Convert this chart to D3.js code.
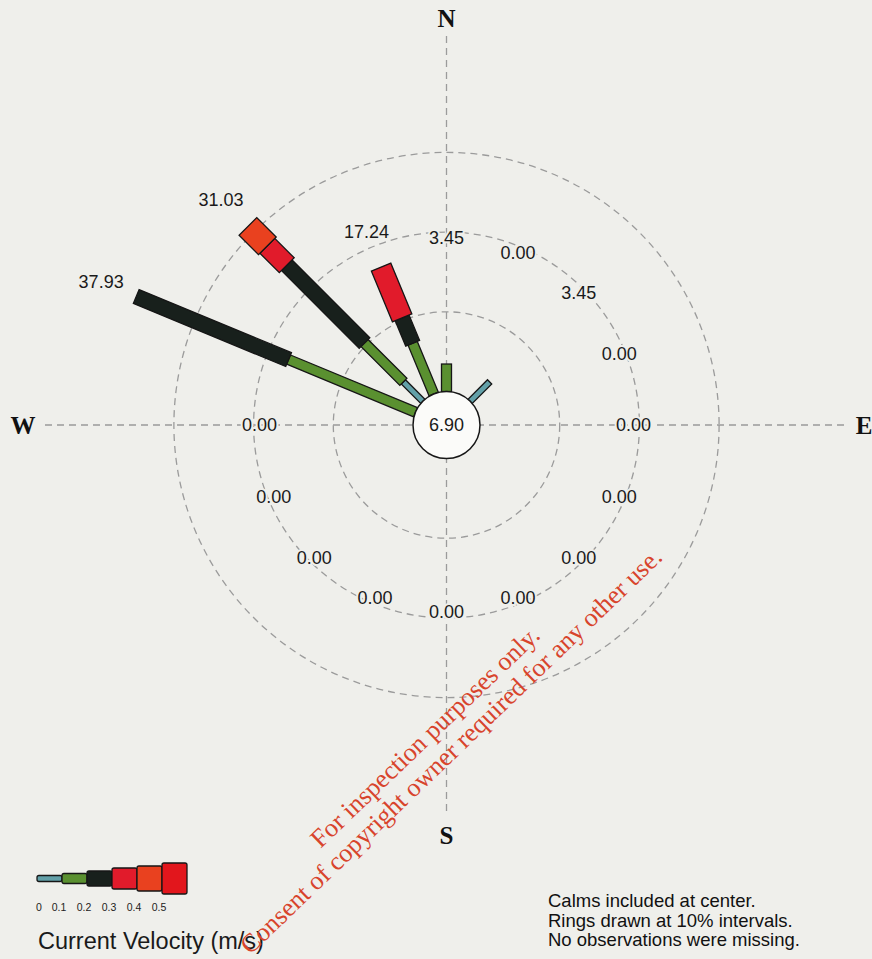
<!DOCTYPE html>
<html>
<head>
<meta charset="utf-8">
<script src="https://cdn.jsdelivr.net/npm/d3@7"></script>
<style>
  html, body { margin: 0; padding: 0; background: #efefeb; }
  svg { display: block; }
</style>
</head>
<body>
<svg id="chart" width="872" height="959"></svg>
<script>
// 16-point compass sectors, clockwise from north
const directions = ["N","NNE","NE","ENE","E","ESE","SE","SSE","S","SSW","SW","WSW","W","WNW","NW","NNW"];
// Current speed classes (m/s, lower bounds)
const speedBins = ["0","0.1","0.2","0.3","0.4","0.5"];
// Frequency of occurrence (%) by direction, one array per speed class
const freq0to01  = [0,     0, 3.448, 0, 0, 0, 0, 0, 0, 0, 0, 0, 0, 0,      3.448,  0];
const freq01to02 = [3.448, 0, 0,     0, 0, 0, 0, 0, 0, 0, 0, 0, 0, 17.241, 6.897,  6.897];
const freq02to03 = [0,     0, 0,     0, 0, 0, 0, 0, 0, 0, 0, 0, 0, 20.690, 13.793, 3.448];
const freq03to04 = [0,     0, 0,     0, 0, 0, 0, 0, 0, 0, 0, 0, 0, 0,      3.448,  6.897];
const freq04to05 = [0,     0, 0,     0, 0, 0, 0, 0, 0, 0, 0, 0, 0, 0,      3.448,  0];
const freq05plus = [0,     0, 0,     0, 0, 0, 0, 0, 0, 0, 0, 0, 0, 0,      0,      0];
const calmPct = 6.897;
const ringPcts = [10, 20, 30];
const notes = ["Calms included at center.", "Rings drawn at 10% intervals.", "No observations were missing."];
const legendTitle = "Current Velocity (m/s)";
const watermark = ["For inspection purposes only.", "Consent of copyright owner required for any other use."];

const freqByBin = [freq0to01, freq01to02, freq02to03, freq03to04, freq04to05, freq05plus];

// ---- styling ----
const binColors = ["#62a0a8", "#5a9030", "#18201c", "#e11b2b", "#e9411f", "#e2161c"];
const binWidths = [6, 10, 15, 21, 25, 31];
const bg = "#efefeb";
const cx = 446.5, cy = 425, calmR = 33.5, pxPerPct = 7.97;

const svg = d3.select("#chart");
svg.append("rect").attr("width", 872).attr("height", 959).attr("fill", bg);

const r = d3.scaleLinear().domain([0, 30]).range([calmR, calmR + 30 * pxPerPct]);
const angle = d3.scalePoint().domain(directions).range([0, 337.5]);
const color = d3.scaleOrdinal(speedBins, binColors);
const width = d3.scaleOrdinal(speedBins, binWidths);

const dash = { stroke: "#9b9b9b", "stroke-width": 1.3, "stroke-dasharray": "7,5", fill: "none" };
function applyAttrs(sel, o) { Object.entries(o).forEach(([k, v]) => sel.attr(k, v)); return sel; }

// compass axes
applyAttrs(svg.append("line").attr("x1", 45).attr("x2", 849).attr("y1", cy).attr("y2", cy), dash);
applyAttrs(svg.append("line").attr("x1", cx).attr("x2", cx).attr("y1", 36).attr("y2", 816), dash);

// percentage rings
svg.append("g").selectAll("circle").data(ringPcts).join("circle")
  .attr("cx", cx).attr("cy", cy).attr("r", d => r(d))
  .each(function () { applyAttrs(d3.select(this), dash); });

// stacked bars per direction
const rows = directions.map((d, i) => {
  let acc = 0;
  const segs = speedBins.map((b, j) => {
    const v = freqByBin[j][i];
    const s = { bin: b, start: acc, end: acc + v, v };
    acc += v;
    return s;
  }).filter(s => s.v > 0);
  return { dir: d, total: acc, segs };
});

const bars = svg.append("g").attr("transform", `translate(${cx},${cy})`);
bars.selectAll("g").data(rows).join("g")
  .attr("transform", d => `rotate(${angle(d.dir)})`)
  .selectAll("rect").data(d => d.segs).join("rect")
  .attr("x", d => -width(d.bin) / 2)
  .attr("width", d => width(d.bin))
  .attr("y", d => -r(d.end))
  .attr("height", d => r(d.end) - r(d.start))
  .attr("fill", d => color(d.bin))
  .attr("stroke", "#161616")
  .attr("stroke-width", 1.3);

// calm circle
svg.append("circle").attr("cx", cx).attr("cy", cy).attr("r", calmR)
  .attr("fill", "#fbfbf9").attr("stroke", "#161616").attr("stroke-width", 1.5);
svg.append("text").attr("x", cx).attr("y", cy).attr("dy", "0.36em")
  .attr("text-anchor", "middle").attr("font-family", "Liberation Sans, Arial, sans-serif")
  .attr("font-size", 18).attr("fill", "#1a1a1a").text(calmPct.toFixed(2));

// direction totals
const minLabelR = 187;
svg.append("g").selectAll("text").data(rows).join("text")
  .attr("x", d => {
    const lr = Math.max(minLabelR, r(d.total) + 38);
    return cx + lr * Math.sin(angle(d.dir) * Math.PI / 180);
  })
  .attr("y", d => {
    const lr = Math.max(minLabelR, r(d.total) + 38);
    return cy - lr * Math.cos(angle(d.dir) * Math.PI / 180);
  })
  .attr("dy", "0.36em")
  .attr("text-anchor", "middle")
  .attr("font-family", "Liberation Sans, Arial, sans-serif")
  .attr("font-size", 18)
  .attr("fill", "#1a1a1a")
  .attr("stroke", bg).attr("stroke-width", 4).attr("paint-order", "stroke")
  .text(d => d.total.toFixed(2));

// compass letters
const compass = [["N", cx, 18], ["E", 864, cy], ["S", cx, 835], ["W", 23, cy]];
svg.append("g").selectAll("text").data(compass).join("text")
  .attr("x", d => d[1]).attr("y", d => d[2]).attr("dy", "0.35em")
  .attr("text-anchor", "middle")
  .attr("font-family", "Liberation Serif, Times New Roman, serif")
  .attr("font-weight", "bold").attr("font-size", 25).attr("fill", "#111")
  .text(d => d[0]);

// speed legend
const lx = d3.scaleBand().domain(speedBins).range([37, 187]);
const legend = svg.append("g");
legend.selectAll("rect").data(speedBins).join("rect")
  .attr("x", d => lx(d)).attr("width", lx.bandwidth())
  .attr("y", d => 878.5 - width(d) / 2).attr("height", d => width(d))
  .attr("rx", 2)
  .attr("fill", d => color(d)).attr("stroke", "#161616").attr("stroke-width", 1.3);
legend.selectAll("text").data(speedBins).join("text")
  .attr("x", d => lx(d) + (d === "0" ? 2 : -3)).attr("y", 911)
  .attr("text-anchor", "middle").attr("font-family", "Liberation Sans, Arial, sans-serif")
  .attr("font-size", 10.5).attr("fill", "#222").text(d => d);
legend.append("text").attr("x", 38).attr("y", 949)
  .attr("font-family", "Liberation Sans, Arial, sans-serif")
  .attr("font-size", 23.5).attr("fill", "#1a1a1a").text(legendTitle);

// footnotes
svg.append("g").selectAll("text").data(notes).join("text")
  .attr("x", 548).attr("y", (d, i) => 907 + i * 19.5)
  .attr("font-family", "Liberation Sans, Arial, sans-serif")
  .attr("font-size", 18.5).attr("fill", "#111").text(d => d);

// diagonal stamp
const stamp = [[431, 743], [457, 757]];
svg.append("g").selectAll("text").data(watermark).join("text")
  .attr("transform", (d, i) => `translate(${stamp[i][0]},${stamp[i][1]}) rotate(-43.8)`)
  .attr("text-anchor", "middle")
  .attr("font-family", "Liberation Serif, Times New Roman, serif")
  .attr("font-size", 26).attr("fill", "#d8442c").text(d => d);
</script>
</body>
</html>
